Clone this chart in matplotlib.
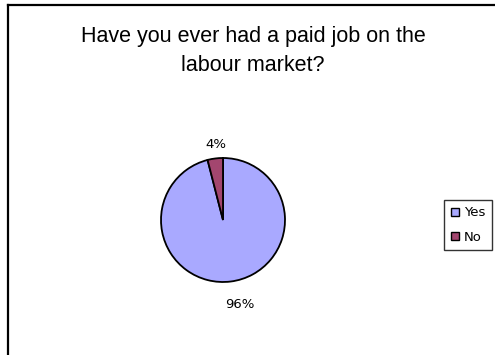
import matplotlib
matplotlib.use("Agg")
import matplotlib.pyplot as plt
from matplotlib.lines import Line2D
from matplotlib.patches import Patch

categories = ["Yes", "No"]
values = [96, 4]
colors = ["#A9A9FF", "#A3466F"]
title = "Have you ever had a paid job on the\nlabour market?"

W, H = 495, 355
fig = plt.figure(figsize=(W / 100, H / 100), dpi=100)
fig.patch.set_facecolor("white")

# chart frame (left and top edges)
x0, y0 = 8 / W, 1 - 5 / H
fig.add_artist(Line2D([x0, x0], [0, y0], color="black", lw=1.6))
fig.add_artist(Line2D([x0, 1], [y0, y0], color="black", lw=1.6))

fig.text(253 / W, 1 - 51 / H, title, ha="center", va="center",
         fontsize=15.5, family="Liberation Sans", linespacing=1.55)

# pie axes: radius 1 -> 62 px
r_px = 62
cx, cy = 223, 220
span = 1.6
size = 2 * span * r_px
ax = fig.add_axes([(cx - size / 2) / W, 1 - (cy + size / 2) / H, size / W, size / H])

wedges, texts = ax.pie(values, colors=colors, startangle=90, counterclock=False,
                       radius=1, wedgeprops=dict(edgecolor="black", linewidth=1.3))
ax.set_xlim(-span, span)
ax.set_ylim(-span, span)
ax.set_aspect("equal")
ax.axis("off")

offsets = {0: (0.27, -1.36), 1: (-0.11, 1.21)}
for i, v in enumerate(values):
    ox, oy = offsets[i]
    ax.text(ox, oy, f"{v}%", ha="center", va="center", fontsize=9.5,
            family="DejaVu Sans")

handles = [Patch(facecolor=c, edgecolor="black", linewidth=1.0) for c in colors]
leg = fig.legend(handles, categories, loc="center",
                 bbox_to_anchor=(468 / W, 1 - 225 / H),
                 prop=dict(family="DejaVu Sans", size=9.5),
                 handlelength=0.6, handleheight=0.6, handletextpad=0.35,
                 labelspacing=0.85, borderpad=0.5, borderaxespad=0,
                 fancybox=False, frameon=True)
leg.get_frame().set_edgecolor("black")
leg.get_frame().set_linewidth(1.0)

fig.savefig("out.png", dpi=100, facecolor="white")
